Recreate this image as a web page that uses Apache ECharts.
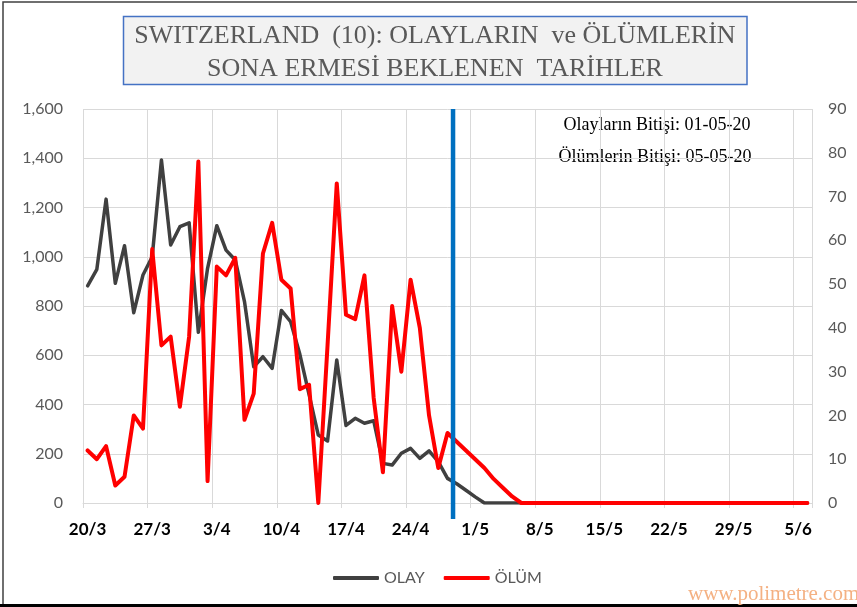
<!DOCTYPE html>
<html>
<head>
<meta charset="utf-8">
<script src="https://cdn.jsdelivr.net/npm/echarts@6/dist/echarts.min.js"></script>
<style>
html,body{margin:0;padding:0;background:#fff;}
#chart{width:857px;height:607px;}
</style>
</head>
<body>
<div id="chart"></div>
<script>
// Day categories (20/3 .. 6/6)
const dates = [
  '20/3','21/3','22/3','23/3','24/3','25/3','26/3','27/3','28/3','29/3','30/3','31/3',
  '1/4','2/4','3/4','4/4','5/4','6/4','7/4','8/4','9/4','10/4','11/4','12/4','13/4','14/4','15/4',
  '16/4','17/4','18/4','19/4','20/4','21/4','22/4','23/4','24/4','25/4','26/4','27/4','28/4','29/4','30/4',
  '1/5','2/5','3/5','4/5','5/5','6/5','7/5','8/5','9/5','10/5','11/5','12/5','13/5','14/5','15/5',
  '16/5','17/5','18/5','19/5','20/5','21/5','22/5','23/5','24/5','25/5','26/5','27/5','28/5','29/5','30/5','31/5',
  '1/6','2/6','3/6','4/6','5/6','6/6'
];
// OLAY (cases) - left axis
const olay = [
  882, 949, 1234, 892, 1045, 773, 926, 1000, 1393, 1048, 1122, 1138,
  693, 953, 1126, 1027, 987, 818, 553, 594, 547, 782, 736, 604, 440, 276, 252,
  581, 315, 344, 324, 334, 161, 154, 202, 222, 181, 212, 168, 100, 78, 52,
  25, 0, 0, 0, 0, 0, 0, 0, 0, 0, 0, 0, 0, 0, 0,
  0, 0, 0, 0, 0, 0, 0, 0, 0, 0, 0, 0, 0, 0, 0, 0,
  0, 0, 0, 0, 0, 0
];
// ÖLÜM (deaths) - right axis
const olum = [
  12, 10, 13, 4, 6, 20, 17, 58, 36, 38, 22, 38,
  78, 5, 54, 52, 56, 19, 25, 57, 64, 51, 49, 26, 27, 0, 36,
  73, 43, 42, 52, 24, 7, 45, 30, 51, 40, 20, 8, 16, 14, 12,
  10, 8, 5.5, 3.5, 1.5, 0, 0, 0, 0, 0, 0, 0, 0, 0, 0,
  0, 0, 0, 0, 0, 0, 0, 0, 0, 0, 0, 0, 0, 0, 0, 0,
  0, 0, 0, 0, 0, 0
];
// Vertical marker (day position on continuous day scale) and its vertical extent (left-axis units)
const markerDay = 39.6;
const markerRange = [1600, -65];

const titleLines = ['SWITZERLAND  (10): OLAYLARIN  ve ÖLÜMLERİN', 'SONA ERMESİ BEKLENEN  TARİHLER'];
const noteLines = ['Olayların Bitişi: 01-05-20', 'Ölümlerin Bitişi: 05-05-20'];
const watermark = 'www.polimetre.com';

const chart = echarts.init(document.getElementById('chart'), null, {renderer: 'canvas'});
const gridColor = '#d9d9d9';
const labelFont = 'Lato, "Liberation Sans", sans-serif';
const serifFont = '"Liberation Serif", "DejaVu Serif", serif';

chart.setOption({
  animation: false,
  backgroundColor: '#fff',
  grid: {left: 83, right: 45, top: 109, bottom: 104, containLabel: false},
  legend: {
    data: [
      {name: 'OLAY', icon: 'roundRect', itemStyle: {color: '#404040'}},
      {name: 'ÖLÜM', icon: 'roundRect', itemStyle: {color: '#ff0000'}}
    ],
    left: 333, top: 570, padding: 0,
    itemWidth: 46, itemHeight: 4, itemGap: 19,
    textStyle: {color: '#595959', fontSize: 16, fontFamily: labelFont}
  },
  xAxis: [
    {
      type: 'category', data: dates, boundaryGap: true,
      axisLine: {lineStyle: {color: gridColor, width: 1}},
      axisTick: {show: true, interval: 6, length: 5, lineStyle: {color: gridColor}},
      axisLabel: {interval: 6, color: '#000', fontWeight: 'bold', fontSize: 17, fontFamily: labelFont, margin: 18},
      splitLine: {show: true, interval: 6, lineStyle: {color: gridColor, width: 1}}
    },
    {type: 'value', min: -0.5, max: dates.length - 0.5, show: false}
  ],
  yAxis: [
    {
      type: 'value', min: 0, max: 1600, interval: 200, position: 'left',
      axisLine: {show: false}, axisTick: {show: false},
      axisLabel: {color: '#595959', fontSize: 16, fontFamily: labelFont, margin: 20},
      splitLine: {lineStyle: {color: gridColor, width: 1}}
    },
    {
      type: 'value', min: 0, max: 90, interval: 10, position: 'right',
      axisLine: {show: false}, axisTick: {show: false},
      axisLabel: {color: '#595959', fontSize: 16, fontFamily: labelFont, margin: 16},
      splitLine: {show: false}
    }
  ],
  series: [
    {
      name: 'OLAY', type: 'line', data: olay, xAxisIndex: 0, yAxisIndex: 0,
      symbol: 'none', z: 2,
      lineStyle: {color: '#404040', width: 3.5, join: 'round', cap: 'round'},
      itemStyle: {color: '#404040'}
    },
    {
      name: 'ÖLÜM', type: 'line', data: olum, xAxisIndex: 0, yAxisIndex: 1,
      symbol: 'none', z: 3,
      lineStyle: {color: '#ff0000', width: 4, join: 'round', cap: 'round'},
      itemStyle: {color: '#ff0000'}
    },
    {
      name: 'marker', type: 'line', xAxisIndex: 1, yAxisIndex: 0,
      data: [[markerDay, markerRange[0]], [markerDay, markerRange[1]]],
      symbol: 'none', clip: false, z: 5, silent: true,
      lineStyle: {color: '#0070c0', width: 4.5}
    }
  ],
  graphic: [
    {type: 'rect', shape: {x: 3, y: 2, width: 1000, height: 603}, style: {fill: 'none', stroke: '#404040', lineWidth: 1.5}, silent: true},
    {type: 'line', shape: {x1: 0, y1: 605.5, x2: 857, y2: 605.5}, style: {stroke: '#000', lineWidth: 3}, silent: true},
    {type: 'rect', shape: {x: 123.5, y: 16.5, width: 623.5, height: 68}, style: {fill: '#f2f2f2', stroke: '#4472c4', lineWidth: 1.5}, silent: true},
    {type: 'text', x: 435, y: 36.5, style: {text: titleLines[0], font: '26px ' + serifFont, fill: '#595959', textAlign: 'center', textVerticalAlign: 'middle'}, silent: true},
    {type: 'text', x: 435, y: 68.8, style: {text: titleLines[1], font: '26px ' + serifFont, fill: '#595959', textAlign: 'center', textVerticalAlign: 'middle'}, silent: true},
    {type: 'text', x: 657, y: 125, style: {text: noteLines[0], font: '18px ' + serifFont, fill: '#000', textAlign: 'center', textVerticalAlign: 'middle'}, silent: true},
    {type: 'text', x: 655, y: 157, style: {text: noteLines[1], font: '18px ' + serifFont, fill: '#000', textAlign: 'center', textVerticalAlign: 'middle'}, silent: true},
    {type: 'text', x: 688, y: 594, style: {text: watermark, font: '21px ' + serifFont, fill: '#f4b183', textAlign: 'left', textVerticalAlign: 'middle'}, silent: true}
  ]
});
</script>
</body>
</html>
